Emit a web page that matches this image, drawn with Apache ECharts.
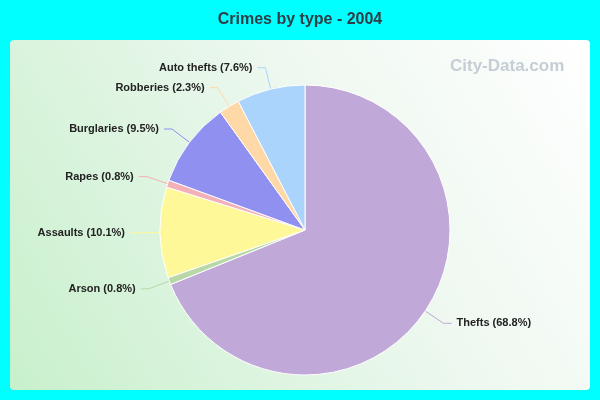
<!DOCTYPE html>
<html><head><meta charset="utf-8">
<script src="https://cdn.jsdelivr.net/npm/echarts@6/dist/echarts.min.js"></script>
<style>html,body{margin:0;padding:0;background:#00ffff}#c{width:600px;height:400px}</style>
</head><body><div id="c"></div>
<script>
const categories = ["Thefts","Arson","Assaults","Rapes","Burglaries","Robberies","Auto thefts"];
const values = [68.8,0.8,10.1,0.8,9.5,2.3,7.6];
const colors = ["#c0a8d8","#b8d8a8","#fff899","#f4b0b8","#9090f0","#ffd8a8","#aad4fc"];
const chart = echarts.init(document.getElementById('c'));
chart.setOption({
  backgroundColor:'#00ffff',
  title:{text:'Crimes by type - 2004',left:'center',top:7,textStyle:{fontFamily:'Arial, Liberation Sans',fontSize:16,fontWeight:'bold',color:'#2f3e46'}},
  graphic:[
    {type:'rect',z:-1,shape:{x:10,y:40,width:580,height:350,r:4},style:{fill:new echarts.graphic.LinearGradient(0,1,1,0,[{offset:0,color:'#c8f0cc'},{offset:0.6,color:'#eef8f0'},{offset:1,color:'#ffffff'}])}},
    {type:'text',left:450,top:58,style:{text:'City-Data.com',fontFamily:'Arial',fontSize:17,fontWeight:'bold',fill:'#c4ced4'}}
  ],
  series:[{
    type:'pie',center:[305,230],radius:[0,145],startAngle:90,clockwise:true,
    data:categories.map((n,i)=>({name:n,value:values[i],itemStyle:{color:colors[i]}})),
    itemStyle:{borderColor:'#ffffff',borderWidth:1},
    label:{formatter:p=>p.name+' ('+p.value+'%)',fontFamily:'Arial, Liberation Sans',fontSize:11,fontWeight:'bold',color:'#222'},
    labelLine:{length:22,length2:8,lineStyle:{width:1}},
    emphasis:{disabled:true},animation:false
  }]
});
</script></body></html>
